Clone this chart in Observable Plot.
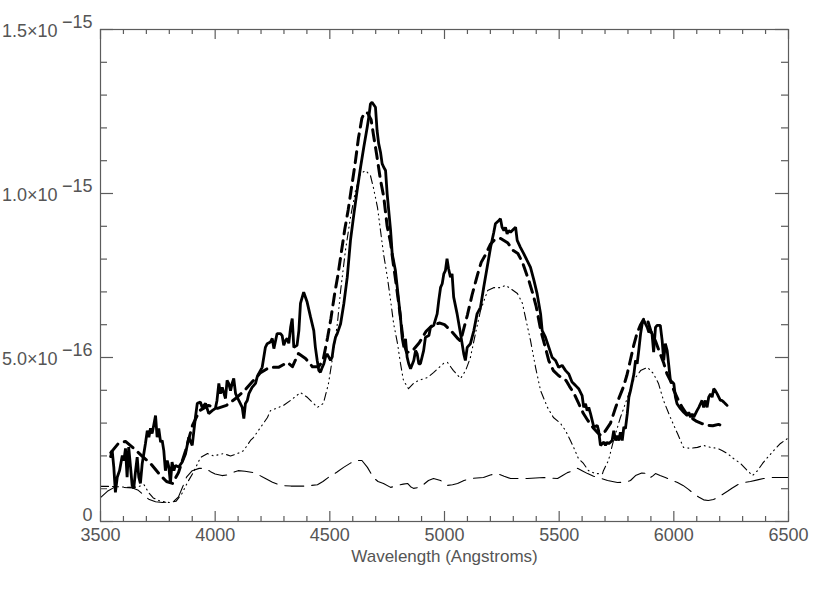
<!DOCTYPE html>
<html><head><meta charset="utf-8">
<script src="https://cdn.jsdelivr.net/npm/d3@7"></script>
<script src="https://cdn.jsdelivr.net/npm/@observablehq/plot@0.6"></script>
<style>html,body{margin:0;padding:0;background:#fff}svg{display:block}</style>
</head><body><div id="chart"></div>
<script>
// Flux values in units of 1e-16 (erg/s/cm^2/A), wavelength in Angstroms
const observed = [[3544,1.98],[3551,2.16],[3558,1.66],[3565,0.89],[3573,1.35],[3583,1.55],[3595,2.01],[3602,1.86],[3609,2.23],[3616,1.35],[3623,2.27],[3631,1.66],[3638,1.10],[3645,1.01],[3653,1.55],[3660,1.96],[3667,1.35],[3674,1.16],[3682,1.77],[3696,2.38],[3704,2.77],[3711,2.57],[3718,2.84],[3725,2.68],[3732,2.93],[3740,3.23],[3747,2.57],[3754,2.84],[3762,2.42],[3769,2.47],[3776,2.16],[3783,1.55],[3791,1.86],[3798,1.66],[3805,1.16],[3812,1.81],[3820,1.55],[3827,1.71],[3841,1.66],[3856,1.81],[3871,2.07],[3885,2.57],[3900,2.32],[3914,3.18],[3922,3.60],[3936,3.64],[3943,3.48],[3958,3.60],[3972,3.29],[3987,3.38],[4001,3.45],[4008,3.69],[4016,4.21],[4023,3.90],[4031,4.09],[4045,3.75],[4052,4.30],[4059,4.21],[4067,3.99],[4074,4.21],[4081,4.36],[4089,3.90],[4103,3.69],[4118,3.48],[4125,3.14],[4132,3.60],[4140,3.69],[4147,3.90],[4161,4.09],[4176,4.21],[4183,4.40],[4190,4.51],[4205,4.70],[4219,5.31],[4227,5.42],[4241,5.47],[4249,5.58],[4256,5.27],[4270,5.73],[4285,5.73],[4292,5.67],[4299,5.37],[4307,5.52],[4314,5.58],[4321,5.43],[4329,5.92],[4336,6.19],[4343,5.31],[4357,5.37],[4365,5.82],[4372,6.65],[4386,6.99],[4401,6.69],[4416,6.23],[4430,5.82],[4437,5.31],[4445,4.91],[4452,4.60],[4459,4.55],[4467,4.70],[4474,4.81],[4481,5.01],[4488,5.11],[4503,4.91],[4510,5.01],[4517,5.37],[4525,5.62],[4532,5.72],[4547,6.03],[4561,6.64],[4576,7.45],[4590,8.57],[4605,9.38],[4619,10.09],[4634,10.80],[4648,11.41],[4663,12.02],[4670,12.33],[4677,12.73],[4684,12.78],[4699,12.63],[4706,11.92],[4713,11.52],[4721,11.26],[4728,10.91],[4735,10.80],[4743,10.70],[4750,9.99],[4765,8.87],[4772,8.16],[4786,7.65],[4794,7.14],[4808,6.23],[4816,5.57],[4823,5.31],[4830,5.57],[4837,5.01],[4844,4.81],[4852,4.66],[4866,4.91],[4874,5.21],[4881,5.11],[4888,4.81],[4895,4.81],[4909,5.21],[4917,5.62],[4932,5.67],[4939,5.92],[4953,5.98],[4968,6.33],[4975,6.74],[4983,7.14],[4990,7.25],[4997,7.55],[5004,7.65],[5011,8.01],[5018,7.70],[5026,7.45],[5033,7.55],[5040,6.84],[5055,6.33],[5070,5.72],[5084,5.11],[5091,4.91],[5099,5.31],[5113,5.42],[5128,5.82],[5142,6.33],[5157,6.53],[5171,7.14],[5186,7.75],[5201,8.36],[5215,8.82],[5222,9.08],[5237,9.18],[5244,9.23],[5251,8.97],[5259,8.87],[5266,8.97],[5273,8.77],[5280,8.87],[5288,8.82],[5302,8.92],[5310,8.97],[5317,8.57],[5331,8.36],[5346,8.16],[5360,7.96],[5375,7.75],[5390,7.35],[5404,6.94],[5419,6.33],[5426,5.82],[5440,5.62],[5455,5.31],[5469,5.01],[5484,4.91],[5498,4.70],[5513,4.76],[5528,4.60],[5542,4.50],[5556,4.25],[5571,4.15],[5585,4.05],[5600,3.84],[5607,3.48],[5615,3.59],[5622,3.38],[5629,3.48],[5637,3.28],[5651,2.88],[5666,2.93],[5672,2.77],[5680,2.32],[5695,2.42],[5702,2.32],[5709,2.42],[5716,2.37],[5731,2.47],[5738,2.77],[5746,2.47],[5753,2.62],[5760,2.47],[5767,2.72],[5775,2.47],[5782,2.88],[5789,2.83],[5797,3.28],[5804,3.79],[5811,3.99],[5826,4.50],[5833,4.91],[5840,4.81],[5847,5.21],[5855,5.72],[5862,6.03],[5869,6.13],[5876,6.03],[5884,5.92],[5891,5.77],[5898,5.82],[5905,5.72],[5912,5.16],[5920,5.92],[5927,5.98],[5941,5.98],[5949,5.52],[5956,4.91],[5963,5.42],[5971,5.21],[5978,4.76],[5985,4.30],[5993,4.25],[6000,4.20],[6007,3.79],[6014,3.59],[6029,3.44],[6043,3.33],[6058,3.23],[6065,3.33],[6073,3.18],[6080,3.28],[6087,3.18],[6094,3.28],[6101,3.38],[6109,3.48],[6116,3.59],[6123,3.69],[6130,3.48],[6138,3.69],[6145,3.48],[6152,3.79],[6160,3.89],[6167,3.79],[6174,4.05],[6181,3.99],[6189,3.89],[6196,3.79],[6203,3.69],[6210,3.69],[6218,3.64],[6225,3.59],[6232,3.54]];

const model = [[3545,2.10],[3578,2.38],[3609,2.44],[3640,2.26],[3679,2.01],[3718,1.77],[3762,1.40],[3788,1.22],[3814,1.16],[3840,1.49],[3871,2.16],[3901,2.93],[3932,3.38],[3971,3.54],[4010,3.45],[4049,3.54],[4089,3.75],[4128,3.99],[4167,4.30],[4198,4.54],[4237,4.70],[4276,4.70],[4315,4.85],[4337,4.72],[4363,5.12],[4394,4.97],[4424,4.72],[4451,4.72],[4470,4.90],[4490,5.60],[4505,6.20],[4520,6.90],[4535,7.50],[4550,8.20],[4565,8.90],[4580,9.50],[4595,10.20],[4610,10.90],[4625,11.70],[4640,12.30],[4652,12.47],[4665,12.45],[4680,12.25],[4690,11.80],[4705,11.15],[4720,10.45],[4735,9.90],[4750,9.00],[4765,8.50],[4775,7.95],[4790,7.20],[4805,6.40],[4820,5.50],[4835,5.15],[4860,5.20],[4890,5.45],[4920,5.80],[4950,6.00],[4980,6.05],[5000,6.00],[5030,5.80],[5055,5.60],[5070,5.50],[5085,5.90],[5100,6.30],[5120,6.90],[5145,7.55],[5160,7.90],[5180,8.15],[5200,8.45],[5220,8.60],[5245,8.63],[5275,8.50],[5300,8.26],[5320,8.17],[5340,7.90],[5355,7.60],[5370,7.30],[5385,6.95],[5400,6.55],[5420,5.82],[5440,5.30],[5455,4.90],[5475,4.60],[5497,4.45],[5530,4.30],[5545,4.12],[5565,3.90],[5585,3.60],[5605,3.30],[5625,3.08],[5650,2.84],[5667,2.71],[5682,2.62],[5700,2.75],[5724,3.00],[5745,3.45],[5760,3.75],[5780,4.10],[5795,4.45],[5810,4.90],[5825,5.37],[5840,5.75],[5855,6.00],[5870,6.19],[5885,6.15],[5900,5.80],[5920,5.50],[5940,5.12],[5955,4.85],[5970,4.50],[5985,4.30],[6000,4.00],[6020,3.69],[6040,3.44],[6060,3.23],[6075,3.17],[6100,3.05],[6120,2.99],[6145,2.93],[6170,2.92],[6195,2.96],[6220,2.90]];

const componentA = [[3500,1.07],[3540,1.07],[3580,1.06],[3620,1.04],[3660,1.05],[3690,1.12],[3710,0.88],[3730,0.72],[3760,0.62],[3800,0.58],[3830,0.62],[3855,0.85],[3880,1.20],[3905,1.50],[3936,1.95],[3967,2.07],[3993,2.00],[4036,2.07],[4067,2.00],[4097,2.07],[4124,2.16],[4154,2.47],[4167,2.56],[4198,2.87],[4228,3.17],[4241,3.38],[4298,3.54],[4328,3.69],[4372,3.93],[4403,3.78],[4429,3.60],[4446,3.48],[4472,3.60],[4494,4.20],[4512,5.00],[4533,6.04],[4547,7.04],[4568,8.26],[4590,9.27],[4612,10.09],[4634,10.61],[4656,10.70],[4677,10.55],[4690,10.18],[4708,9.57],[4721,8.87],[4734,8.17],[4751,7.44],[4765,6.74],[4778,6.04],[4795,5.43],[4808,4.82],[4821,4.30],[4843,4.05],[4865,4.21],[4887,4.30],[4926,4.39],[4952,4.54],[4996,4.82],[5013,4.85],[5039,4.60],[5070,4.36],[5092,4.60],[5113,5.00],[5135,5.73],[5157,6.43],[5188,7.04],[5214,7.13],[5244,7.13],[5266,7.20],[5288,7.10],[5318,6.95],[5340,6.65],[5353,6.22],[5375,5.52],[5397,4.70],[5419,3.99],[5449,3.48],[5475,3.17],[5506,2.99],[5528,2.77],[5549,2.47],[5563,2.26],[5584,1.92],[5606,1.77],[5628,1.55],[5658,1.46],[5689,1.46],[5693,1.55],[5715,1.86],[5737,2.47],[5767,3.17],[5798,3.78],[5824,4.30],[5855,4.60],[5885,4.70],[5911,4.51],[5933,4.21],[5955,3.69],[5985,3.17],[6016,2.68],[6042,2.26],[6073,2.23],[6103,2.26],[6129,2.32],[6160,2.26],[6190,2.23],[6212,2.16],[6234,2.07],[6260,1.92],[6291,1.77],[6321,1.55],[6343,1.40],[6365,1.55],[6387,1.77],[6408,1.95],[6435,2.16],[6465,2.38],[6496,2.53],[6500,2.56]];

const componentB = [[3500,0.73],[3530,0.92],[3560,1.04],[3600,1.04],[3640,1.02],[3665,0.95],[3690,0.80],[3710,0.68],[3740,0.60],[3770,0.58],[3800,0.59],[3820,0.62],[3840,0.75],[3858,1.05],[3875,1.35],[3900,1.55],[3930,1.62],[3958,1.62],[3980,1.52],[4000,1.45],[4030,1.40],[4054,1.42],[4080,1.50],[4100,1.55],[4130,1.53],[4167,1.49],[4190,1.42],[4211,1.34],[4250,1.20],[4285,1.10],[4330,1.08],[4390,1.08],[4446,1.12],[4470,1.22],[4500,1.38],[4530,1.50],[4560,1.65],[4590,1.78],[4610,1.86],[4640,1.86],[4664,1.65],[4690,1.34],[4710,1.22],[4734,1.16],[4765,1.04],[4795,1.10],[4820,1.14],[4839,1.16],[4852,1.06],[4865,1.01],[4887,1.04],[4904,1.10],[4930,1.25],[4952,1.31],[4983,1.25],[5013,1.10],[5035,1.12],[5057,1.16],[5085,1.25],[5113,1.31],[5170,1.34],[5200,1.42],[5231,1.46],[5260,1.38],[5288,1.31],[5362,1.31],[5432,1.34],[5493,1.31],[5515,1.40],[5536,1.49],[5562,1.55],[5580,1.62],[5600,1.55],[5624,1.46],[5650,1.38],[5670,1.34],[5711,1.25],[5754,1.19],[5790,1.20],[5811,1.25],[5833,1.40],[5860,1.48],[5885,1.46],[5898,1.34],[5910,1.40],[5920,1.46],[5940,1.40],[5963,1.34],[5990,1.26],[6016,1.19],[6040,1.10],[6064,0.98],[6090,0.83],[6110,0.74],[6130,0.66],[6150,0.64],[6173,0.67],[6200,0.77],[6234,0.92],[6255,1.02],[6278,1.12],[6300,1.18],[6334,1.22],[6365,1.27],[6391,1.31],[6430,1.34],[6465,1.34],[6500,1.34]];

const xMajor = [3500,4000,4500,5000,5500,6000,6500];
const xMinor = [3600,3700,3800,3900,4100,4200,4300,4400,4600,4700,4800,4900,5100,5200,5300,5400,5600,5700,5800,5900,6100,6200,6300,6400];
const yMajor = [0,5,10,15];
const yMinor = [1,2,3,4,6,7,8,9,11,12,13,14];
const yMantissa = ["0","5.0×10","1.0×10","1.5×10"];
const yExponent = ["","−16","−15","−15"];
const xTitle = "Wavelength (Angstroms)";

const W = 830, H = 593, mL = 100, mR = 42, mT = 29, mB = 72;
const fh = H - mT - mB, fw = W - mL - mR;
const axisColor = "#5c5c5c", textColor = "#555";
const toRows = s => s.map(([w, f]) => ({w, f}));

const chart = Plot.plot({
  width: W, height: H,
  marginLeft: mL, marginRight: mR, marginTop: mT, marginBottom: mB,
  x: {domain: [3500, 6500], axis: null},
  y: {domain: [0, 15], axis: null},
  style: {fontFamily: "'Liberation Sans', Arial, sans-serif", background: "white", overflow: "visible"},
  marks: [
    // spectra
    Plot.line(toRows(componentB), {x: "w", y: "f", stroke: "black", strokeWidth: 1.1, strokeDasharray: "19,8", clip: true}),
    Plot.line(toRows(componentA), {x: "w", y: "f", stroke: "black", strokeWidth: 1.1, strokeDasharray: "8,4,1,4,1,4,1,4", clip: true}),
    Plot.line(toRows(model), {x: "w", y: "f", stroke: "black", strokeWidth: 3, strokeDasharray: "11,7", clip: true}),
    Plot.line(toRows(observed), {x: "w", y: "f", stroke: "black", strokeWidth: 2.8, strokeLinejoin: "miter", clip: true}),
    // frame and inward ticks
    Plot.frame({stroke: axisColor, strokeWidth: 1.2}),
    Plot.ruleX(xMajor, {x: d => d, insetTop: fh - 10, stroke: axisColor, strokeWidth: 1.2}),
    Plot.ruleX(xMinor, {x: d => d, insetTop: fh - 5, stroke: axisColor, strokeWidth: 1.2}),
    Plot.ruleX(xMajor, {x: d => d, insetBottom: fh - 10, stroke: axisColor, strokeWidth: 1.2}),
    Plot.ruleX(xMinor, {x: d => d, insetBottom: fh - 5, stroke: axisColor, strokeWidth: 1.2}),
    Plot.ruleY(yMajor, {y: d => d, insetRight: fw - 13, stroke: axisColor, strokeWidth: 1.2}),
    Plot.ruleY(yMinor, {y: d => d, insetRight: fw - 7, stroke: axisColor, strokeWidth: 1.2}),
    Plot.ruleY(yMajor, {y: d => d, insetLeft: fw - 13, stroke: axisColor, strokeWidth: 1.2}),
    Plot.ruleY(yMinor, {y: d => d, insetLeft: fw - 7, stroke: axisColor, strokeWidth: 1.2}),
    // x tick labels and title
    Plot.text(xMajor, {x: d => d, frameAnchor: "bottom", dy: 19, text: d => String(d), fontSize: 18, fill: textColor}),
    Plot.text([xTitle], {frameAnchor: "bottom", dy: 40, text: d => d, fontSize: 17, fill: textColor}),
    // y tick labels (mantissa and superscript exponent)
    Plot.text(yMajor, {y: d => d, frameAnchor: "left", filter: (d, i) => yExponent[i] === "", text: (d, i) => yMantissa[i], textAnchor: "end", dx: -8, dy: -6, fontSize: 18, fill: textColor}),
    Plot.text(yMajor, {y: d => d, frameAnchor: "left", filter: (d, i) => yExponent[i] !== "", text: (d, i) => yMantissa[i], textAnchor: "end", dx: -43, dy: 2, fontSize: 18, fill: textColor}),
    Plot.text(yMajor, {y: d => d, frameAnchor: "left", filter: (d, i) => yExponent[i] !== "", text: (d, i) => yExponent[i], textAnchor: "end", dx: -8, dy: -7, fontSize: 18, fill: textColor})
  ]
});
document.getElementById("chart").appendChild(chart);
</script>
</body></html>
